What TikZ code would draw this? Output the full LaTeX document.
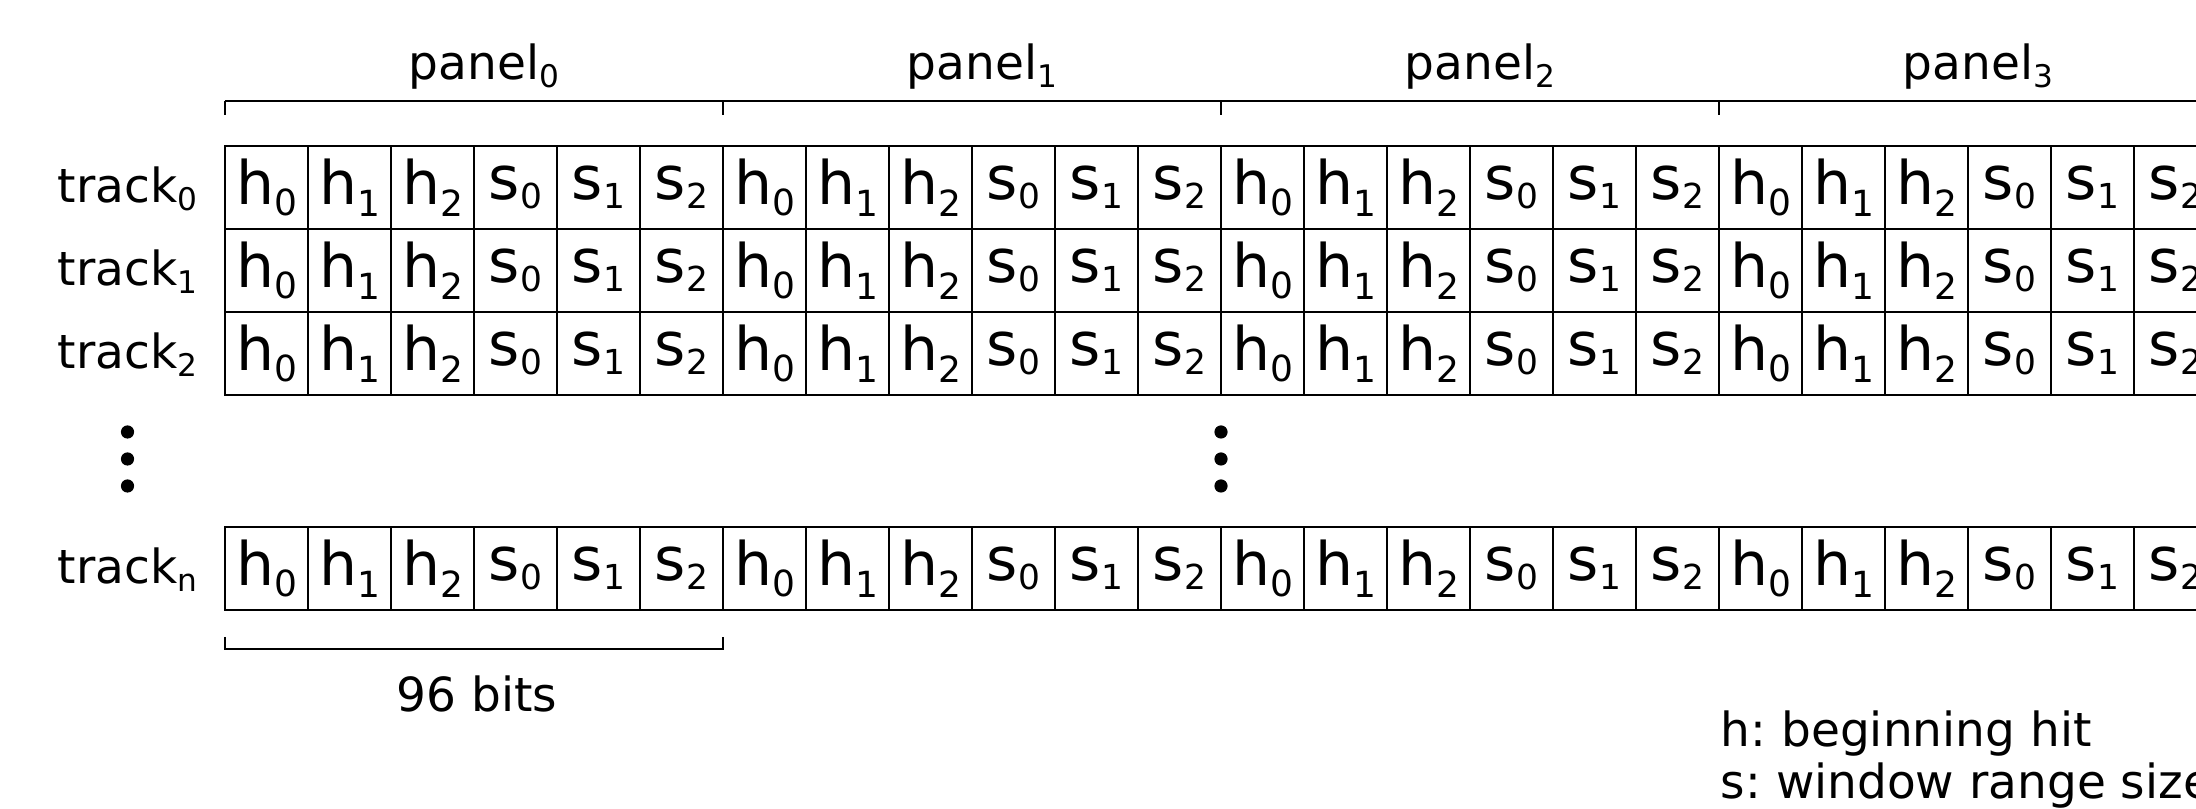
\documentclass[tikz,border=0pt]{standalone}
\usepackage{fontspec}
\setmainfont{DejaVu Sans}
\frenchspacing
\newcommand{\hsub}[2]{#1\raisebox{-2.9pt}{\fontsize{9}{9}\selectfont #2}}
\newcommand{\ssub}[2]{#1\raisebox{-2.2pt}{\fontsize{8.6}{9}\selectfont #2}}
\newcommand{\lsub}[2]{#1\raisebox{-1.9pt}{\fontsize{7.8}{8}\selectfont #2}}
\begin{document}
\begin{tikzpicture}[x=0.25pt,y=-0.25pt,
  cell/.style={draw,line width=0.5pt,minimum width=20.75pt,minimum height=20.75pt,inner sep=0pt,font=\fontsize{15}{18}\selectfont},
  lbl/.style={inner sep=0pt,font=\fontsize{11.75}{14}\selectfont},
  dotnode/.style={circle,fill,inner sep=0pt,minimum size=3.3pt},
  brace/.style={line width=0.55pt}]
\useasboundingbox (0,0) rectangle (2196,809);
\clip (0,0) rectangle (2196,809);
% grid rows
\foreach \rr/\ty/\nm in {0/146/0,1/229/1,2/312/2,3/527/n} {
  \foreach \cc in {0,...,23} {
    \pgfmathtruncatemacro\k{mod(\cc,6)}
    \pgfmathsetmacro\xc{225+83*\cc+41.5}
    \ifnum\k<3 \def\txt{\hsub{h}{\k}}\else\pgfmathtruncatemacro\kk{\k-3}\def\txt{\ssub{s}{\kk}}\fi
    \node[cell] (c-\rr-\cc) at (\xc,\ty+41.5) {\txt};
  }
  \node[lbl,anchor=base east] (t-\rr) at (198,\ty+57) {\lsub{track}{\nm}};
}
% panel labels and top brace
\coordinate (bl) at (225,101);
\coordinate (br) at (2210,101);
\draw[brace] (bl) -- (br);
\foreach \p in {0,1,2,3} {
  \node[lbl,anchor=base] (p-\p) at (474+498*\p,80) {panel\rlap{\raisebox{-1.9pt}{\fontsize{7.8}{8}\selectfont \p}}};
  \coordinate (tka-\p) at (225+498*\p,101);
  \coordinate (tkb-\p) at (225+498*\p,115);
  \draw[brace] (tka-\p) -- (tkb-\p);
}
% vertical dots
\foreach \i/\yy in {1/432,2/459,3/486} {
  \node[dotnode] (dl-\i) at (127.5,\yy) {};
  \node[dotnode] (dm-\i) at (1221,\yy) {};
}
% 96 bits bracket
\coordinate (b1) at (225,637);
\coordinate (b2) at (225,649);
\coordinate (b3) at (723,649);
\coordinate (b4) at (723,637);
\draw[brace] (b1) -- (b2) -- (b3) -- (b4);
\node[lbl,anchor=base] (bits) at (477,711.5) {96 bits};
% legend
\node[lbl,anchor=base west] (lh) at (1720,746.5) {h: beginning hit};
\node[lbl,anchor=base west] (ls) at (1720,799) {s: window range size};
\end{tikzpicture}
\end{document}
